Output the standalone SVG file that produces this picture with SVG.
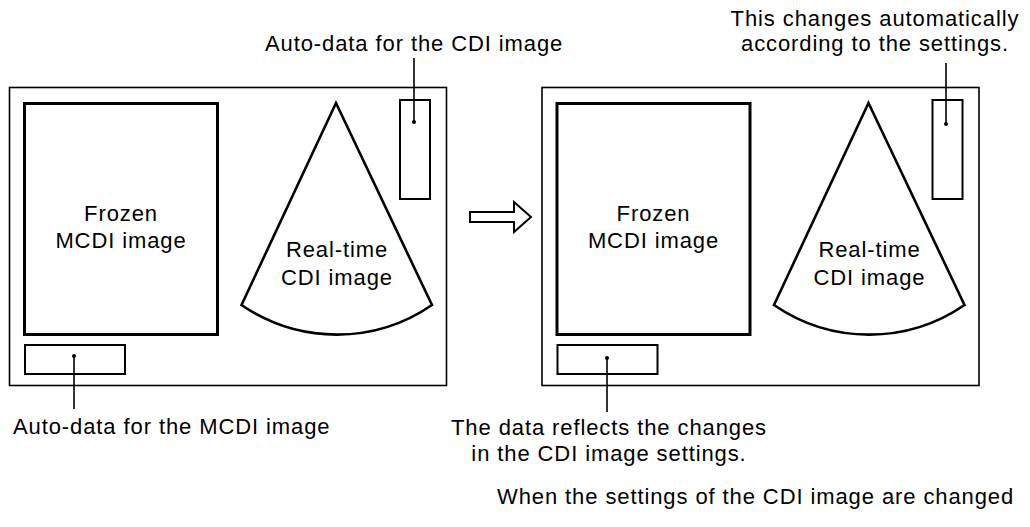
<svg xmlns="http://www.w3.org/2000/svg" width="1030" height="527" viewBox="0 0 1030 527">
<style>
text{font-family:"Liberation Sans",Arial,sans-serif;font-size:22px;letter-spacing:0.9px;fill:#000}
.m{text-anchor:middle}
.outer{fill:none;stroke:#000;stroke-width:1.6}
.thick{fill:none;stroke:#000;stroke-width:3}
.small{fill:none;stroke:#000;stroke-width:2}
.fan{fill:none;stroke:#000;stroke-width:2.6;stroke-linejoin:miter}
.lead{stroke:#000;stroke-width:1.6;fill:none}
.dot{fill:#000}
</style>
<g id="left-screen">
<rect class="outer" x="9.5" y="87.5" width="437" height="298"/>
</g>
<g id="left-frozen">
<rect class="thick" x="24.5" y="103.5" width="193" height="231"/>
<text class="m" x="121" y="221">Frozen</text>
<text class="m" x="121" y="248">MCDI image</text>
</g>
<g id="left-fan">
<path class="fan" d="M336,103 L241.5,305 A168,168 0 0 0 432,305 Z"/>
<text class="m" x="337" y="257">Real-time</text>
<text class="m" x="337" y="285">CDI image</text>
</g>
<g id="left-cdi-data">
<rect class="small" x="400" y="100" width="30" height="99"/>
</g>
<g id="left-mcdi-data">
<rect class="small" x="25" y="345" width="100" height="29"/>
</g>
<g id="arrow">
<path class="small" d="M470,212 L514,212 L514,202 L531,217 L514,232 L514,222 L470,222 Z"/>
</g>
<g id="right-screen">
<rect class="outer" x="542" y="87.5" width="437" height="298"/>
</g>
<g id="right-frozen">
<rect class="thick" x="557" y="103.5" width="193" height="231"/>
<text class="m" x="653.5" y="221">Frozen</text>
<text class="m" x="653.5" y="248">MCDI image</text>
</g>
<g id="right-fan">
<path class="fan" d="M868.5,103 L774,305 A168,168 0 0 0 964.5,305 Z"/>
<text class="m" x="869.5" y="257">Real-time</text>
<text class="m" x="869.5" y="285">CDI image</text>
</g>
<g id="right-cdi-data">
<rect class="small" x="932.5" y="100" width="30" height="99"/>
</g>
<g id="right-mcdi-data">
<rect class="small" x="557.5" y="345" width="100" height="29"/>
</g>
<g id="labels">
<text x="265" y="51">Auto-data for the CDI image</text>
<text x="13" y="434">Auto-data for the MCDI image</text>
<text class="m" x="875" y="26">This changes automatically</text>
<text class="m" x="875" y="51">according to the settings.</text>
<text class="m" x="609" y="435">The data reflects the changes</text>
<text class="m" x="609" y="461">in the CDI image settings.</text>
<text x="497" y="504">When the settings of the CDI image are changed</text>
</g>
<g id="connectors">
<line class="lead" x1="414" y1="58" x2="414" y2="122"/>
<circle class="dot" cx="414" cy="122" r="2"/>
<line class="lead" x1="74" y1="356" x2="74" y2="409"/>
<circle class="dot" cx="74" cy="356" r="2"/>
<line class="lead" x1="946" y1="63" x2="946" y2="124"/>
<circle class="dot" cx="946" cy="124" r="2"/>
<line class="lead" x1="607" y1="358" x2="607" y2="412"/>
<circle class="dot" cx="607" cy="358" r="2"/>
</g>
</svg>
